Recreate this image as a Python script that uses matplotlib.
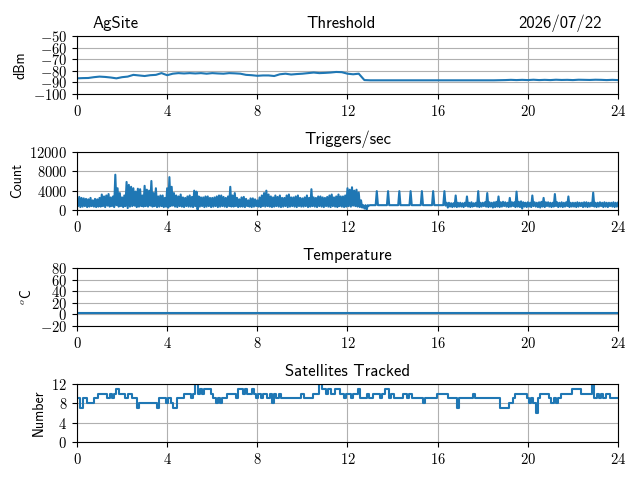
import numpy as np
import matplotlib
matplotlib.use("Agg")
import matplotlib.pyplot as plt
from matplotlib.ticker import FuncFormatter

plt.rcParams['font.family'] = ['cmss10', 'DejaVu Sans']
plt.rcParams['mathtext.fontset'] = 'cm'
plt.rcParams['axes.unicode_minus'] = True

site = "AgSite"
date_label = "2026/07/22"
titles = ["Threshold", "Triggers/sec", "Temperature", "Satellites Tracked"]
ylabels = ["dBm", "Count", r"$^o$C", "Number"]
xticks = [0, 4, 8, 12, 16, 20, 24]

# Threshold, every 0.25 h
thr_t = np.arange(0, 24.001, 0.25)
thr_v = [-86.5, -86.3, -86.2, -85.5, -85.0, -85.3, -85.8, -86.5, -85.5, -85.0, -83.5, -84.0,
         -84.5, -83.8, -83.5, -82.0, -83.8, -82.5, -82.0, -82.3, -82.0, -82.3, -82.0, -82.5,
         -82.0, -82.3, -82.5, -82.0, -82.2, -82.5, -83.5, -83.8, -84.3, -84.0, -84.0, -84.5,
         -83.0, -82.5, -83.2, -82.8, -82.5, -82.0, -81.5, -82.0, -81.8, -81.5, -81.0, -81.2,
         -82.5, -83.0, -82.5, -88.0, -88.2, -88.2, -88.2, -88.2, -88.2, -88.2, -88.2, -88.2,
         -88.2, -88.2, -88.2, -88.2, -88.2, -88.2, -88.2, -88.2, -88.2, -88.2, -88.2, -88.2,
         -88.2, -88.2, -88.2, -88.1, -88.0, -87.8, -88.0, -87.8, -88.0, -87.7, -88.0, -87.8,
         -88.0, -87.7, -87.9, -87.8, -88.0, -87.7, -87.8, -87.9, -87.7, -87.8, -88.0, -87.8,
         -88.0]

# Triggers per second: high and low reading in each 0.1 h bin
trg_t = np.arange(0, 24.001, 0.1)
trg_hi = [1800, 2700, 2500, 2400, 2300, 2200, 2500, 2000, 2300, 2200,
          2500, 3200, 2800, 3000, 3300, 2600, 2800, 7300, 4500, 3500,
          2600, 3000, 5800, 5200, 4800, 4500, 3800, 4400, 4300, 3000,
          5000, 4200, 4000, 6000, 3500, 4500, 2800, 3000, 3000, 2500,
          4500, 6800, 4800, 3500, 3000, 2800, 3200, 2600, 2500, 2800,
          3000, 2700, 4000, 3800, 2800, 2600, 2600, 2800, 2800, 2500,
          2500, 2600, 2800, 3000, 3000, 2700, 2500, 2800, 4800, 3000,
          3500, 2500, 2200, 2600, 2700, 2300, 2000, 2400, 2400, 2200,
          2000, 2600, 3000, 3500, 4000, 3200, 2800, 2600, 3000, 2700,
          3000, 2500, 2500, 3000, 3200, 2600, 2600, 2800, 3000, 2500,
          2400, 2600, 3000, 2500, 4300, 2600, 2500, 2800, 2800, 2600,
          2500, 2700, 3000, 3200, 2600, 2800, 3200, 2800, 2800, 3000,
          4500, 4200, 4700, 4000, 4200, 3600, 2000, 1000, 1000, 1000,
          1000, 1000, 1000, 3900, 1000, 1000, 1000, 1000, 3900, 1000,
          1000, 1000, 1000, 3900, 1000, 1000, 1000, 1000, 3900, 1000,
          1000, 1000, 1000, 3900, 1000, 1000, 1000, 1000, 3900, 1000,
          1000, 1000, 1000, 3900, 1500, 1500, 1400, 1400, 3000, 1500,
          1500, 1400, 1500, 2800, 1500, 1600, 1400, 1500, 3900, 1500,
          1500, 1600, 3500, 1600, 1500, 1600, 1700, 2800, 1600, 1700,
          1600, 1500, 2500, 1600, 1600, 3800, 1700, 1800, 1600, 1500,
          1600, 1500, 3000, 1600, 1500, 1600, 1700, 2500, 1600, 1600,
          1500, 1500, 3300, 1600, 1500, 1600, 1500, 1600, 2800, 1500,
          1500, 1500, 1600, 1500, 1500, 1600, 1600, 1500, 1500, 3600,
          1500, 1500, 1600, 1500, 1600, 1500, 1500, 1500, 1600, 1500,
          1500]
trg_lo = [800, 600, 700, 800, 600, 700, 800, 700, 600, 700,
          700, 800, 600, 900, 700, 800, 600, 1000, 700, 800,
          600, 800, 400, 700, 800, 900, 600, 700, 800, 700,
          800, 700, 900, 700, 800, 600, 700, 800, 600, 700,
          500, 800, 900, 700, 600, 800, 700, 600, 800, 700,
          700, 600, 800, 100, 700, 800, 600, 700, 800, 600,
          700, 800, 600, 700, 800, 700, 600, 800, 700, 700,
          800, 600, 700, 700, 600, 800, 700, 600, 700, 800,
          700, 600, 800, 700, 800, 700, 600, 700, 800, 700,
          600, 700, 800, 600, 700, 800, 700, 600, 800, 700,
          700, 800, 600, 700, 800, 700, 600, 800, 700, 600,
          800, 700, 600, 800, 700, 600, 800, 700, 600, 700,
          800, 700, 900, 800, 700, 600, 500, 300, 0, 900,
          1000, 1000, 1000, 1000, 1000, 1000, 1000, 1000, 1000, 1000,
          1000, 1000, 1000, 1000, 1000, 1000, 1000, 1000, 1000, 1000,
          1000, 1000, 1000, 1000, 1000, 1000, 1000, 1000, 1000, 1000,
          1000, 1000, 1000, 900, 500, 700, 600, 700, 600, 700,
          700, 600, 800, 700, 600, 700, 800, 700, 600, 700,
          800, 700, 600, 700, 500, 600, 700, 600, 700, 800,
          700, 600, 700, 800, 600, 700, 600, 300, 700, 600,
          700, 600, 800, 700, 600, 500, 700, 600, 800, 700,
          600, 700, 800, 600, 700, 600, 700, 800, 600, 700,
          700, 600, 700, 800, 600, 700, 600, 700, 800, 700,
          600, 700, 800, 600, 700, 600, 800, 700, 600, 700,
          800]

# Temperature, hourly
tmp_t = np.arange(0, 24.001, 1.0)
tmp_v = [3.0] * 25

# Satellites tracked, every 0.1 h
sat_t = np.arange(0, 24.001, 0.1)
sat_v = [9, 9, 7, 9, 9, 8, 8, 8, 9, 9,
         10, 10, 10, 10, 9, 10, 9, 10, 11, 10,
         10, 10, 9, 10, 10, 9, 9, 7, 8, 8,
         8, 8, 8, 8, 8, 8, 7, 9, 9, 9,
         8, 9, 8, 7, 7, 9, 9, 9, 10, 10,
         10, 9, 10, 12, 10, 11, 10, 11, 11, 11,
         10, 9, 8, 9, 8, 9, 9, 10, 10, 10,
         10, 9, 11, 11, 10, 11, 10, 10, 11, 10,
         9, 10, 9, 10, 10, 9, 10, 8, 10, 9,
         10, 9, 9, 9, 9, 9, 9, 9, 9, 9,
         10, 9, 9, 9, 9, 10, 10, 10, 12, 11,
         11, 10, 11, 10, 10, 11, 11, 10, 10, 9,
         10, 10, 9, 10, 10, 11, 9, 9, 9, 10,
         9, 9, 10, 10, 10, 9, 10, 11, 11, 9,
         10, 9, 9, 9, 9, 10, 10, 9, 10, 9,
         9, 9, 9, 9, 8, 9, 9, 9, 9, 9,
         10, 10, 10, 10, 10, 9, 9, 9, 9, 7,
         9, 9, 9, 9, 9, 9, 10, 9, 9, 9,
         9, 9, 9, 9, 9, 9, 9, 9, 7, 7,
         7, 7, 8, 8, 9, 10, 10, 10, 10, 10,
         9, 8, 9, 8, 6, 9, 10, 10, 10, 10,
         9, 8, 9, 8, 9, 10, 10, 10, 10, 10,
         11, 11, 11, 11, 10, 10, 10, 10, 10, 12,
         9, 10, 9, 10, 9, 10, 10, 9, 9, 9,
         9]

ylims = [(-100, -50), (0, 12000), (-20, 80), (0, 12)]
yticks = [[-100, -90, -80, -70, -60, -50], [0, 4000, 8000, 12000],
          [-20, 0, 20, 40, 60, 80], [0, 4, 8, 12]]

fig, axes = plt.subplots(4, 1, figsize=(6.4, 4.8), dpi=100)
fig.subplots_adjust(left=0.1203, right=0.9656, top=0.925, bottom=0.0792, hspace=1.0)

mathfmt = FuncFormatter(lambda v, p: r'$%d$' % int(round(v)))

# interleave high/low readings of each bin into one trace
trg_x = np.column_stack([trg_t, trg_t + 0.05]).ravel()[:-1]
trg_y = np.column_stack([trg_hi, trg_lo]).ravel()[:-1]

series = [(thr_t, thr_v, 'default'), (trg_x, trg_y, 'default'),
          (tmp_t, tmp_v, 'default'), (sat_t, sat_v, 'steps-mid')]
for i, ax in enumerate(axes):
    t, v, ds = series[i]
    ax.plot(t, v, color='#1f77b4', lw=1.5, drawstyle=ds)
    ax.set_xlim(0, 24)
    ax.set_ylim(*ylims[i])
    ax.set_xticks(xticks)
    ax.set_yticks(yticks[i])
    ax.xaxis.set_major_formatter(mathfmt)
    ax.yaxis.set_major_formatter(mathfmt)
    ax.tick_params(labelsize=10.5)
    ax.grid(True)
    ax.set_ylabel(ylabels[i], fontsize=10)
    if i > 0:
        ax.set_title(titles[i], fontsize=12)

top = axes[0]
for txt, xf, ha in [(site, 0.0296, 'left'), (titles[0], 0.488, 'center'), (date_label, 0.970, 'right')]:
    top.annotate(txt, xy=(xf, 1.0), xycoords='axes fraction', xytext=(0, 6),
                 textcoords='offset points', ha=ha, va='baseline', fontsize=12)

fig.savefig("out.png", dpi=100)
